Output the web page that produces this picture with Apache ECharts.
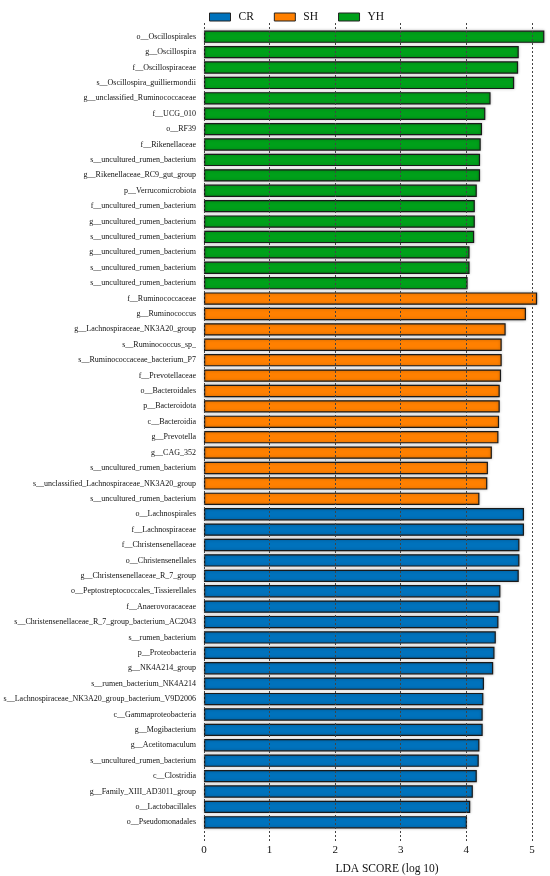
<!DOCTYPE html>
<html>
	<head>
		<meta charset="utf-8">
		<title>LDA score</title>
		<style>
			html, body { margin: 0; padding: 0; background: #fff; }
			#chart { width: 550px; height: 876px; }
		</style>
	</head>
	<body>
		<div id="chart"></div>
		<script src="https://cdn.jsdelivr.net/npm/echarts@6.0.0/dist/echarts.min.js"></script>
		<script>
			// 分组与LDA得分（从上到下的顺序）
			var groupNames = ['CR', 'SH', 'YH'];
			var groupColors = ['#0072bc', '#ff8000', '#00a01a'];

			var yhTaxa = [
				'o__Oscillospirales', 'g__Oscillospira', 'f__Oscillospiraceae', 's__Oscillospira_guilliermondii',
				'g__unclassified_Ruminococcaceae', 'f__UCG_010', 'o__RF39', 'f__Rikenellaceae',
				's__uncultured_rumen_bacterium', 'g__Rikenellaceae_RC9_gut_group', 'p__Verrucomicrobiota',
				'f__uncultured_rumen_bacterium', 'g__uncultured_rumen_bacterium', 's__uncultured_rumen_bacterium',
				'g__uncultured_rumen_bacterium', 's__uncultured_rumen_bacterium', 's__uncultured_rumen_bacterium'
			];
			var yhScores = [5.19, 4.80, 4.79, 4.73, 4.37, 4.29, 4.24, 4.22, 4.21, 4.21, 4.16, 4.13, 4.13, 4.12, 4.05, 4.05, 4.02];

			var shTaxa = [
				'f__Ruminococcaceae', 'g__Ruminococcus', 'g__Lachnospiraceae_NK3A20_group', 's__Ruminococcus_sp_',
				's__Ruminococcaceae_bacterium_P7', 'f__Prevotellaceae', 'o__Bacteroidales', 'p__Bacteroidota',
				'c__Bacteroidia', 'g__Prevotella', 'g__CAG_352', 's__uncultured_rumen_bacterium',
				's__unclassified_Lachnospiraceae_NK3A20_group', 's__uncultured_rumen_bacterium'
			];
			var shScores = [5.08, 4.91, 4.60, 4.54, 4.54, 4.53, 4.51, 4.51, 4.50, 4.49, 4.39, 4.33, 4.32, 4.20];

			var crTaxa = [
				'o__Lachnospirales', 'f__Lachnospiraceae', 'f__Christensenellaceae', 'o__Christensenellales',
				'g__Christensenellaceae_R_7_group', 'o__Peptostreptococcales_Tissierellales', 'f__Anaerovoracaceae',
				's__Christensenellaceae_R_7_group_bacterium_AC2043', 's__rumen_bacterium', 'p__Proteobacteria',
				'g__NK4A214_group', 's__rumen_bacterium_NK4A214', 's__Lachnospiraceae_NK3A20_group_bacterium_V9D2006',
				'c__Gammaproteobacteria', 'g__Mogibacterium', 'g__Acetitomaculum', 's__uncultured_rumen_bacterium',
				'c__Clostridia', 'g__Family_XIII_AD3011_group', 'o__Lactobacillales', 'o__Pseudomonadales'
			];
			var crScores = [4.88, 4.88, 4.81, 4.81, 4.80, 4.52, 4.51, 4.49, 4.45, 4.43, 4.41, 4.27, 4.26, 4.25, 4.25, 4.20, 4.19, 4.16, 4.10, 4.06, 4.01];

			var xTicks = [0, 1, 2, 3, 4, 5];
			var axisTitle = 'LDA SCORE (log 10)';

			// 纵轴顺序：YH -> SH -> CR
			var categories = yhTaxa.concat(shTaxa, crTaxa);
			function pad(before, vals, after) {
				var out = [];
				for (var i = 0; i < before; i++) out.push('-');
				out = out.concat(vals);
				for (var j = 0; j < after; j++) out.push('-');
				return out;
			}
			var seriesData = {
				YH: pad(0, yhScores, shScores.length + crScores.length),
				SH: pad(yhScores.length, shScores, crScores.length),
				CR: pad(yhScores.length + shScores.length, crScores, 0)
			};

			var font = '"Liberation Serif", "Times New Roman", serif';
			var chart = echarts.init(document.getElementById('chart'));

			var series = groupNames.map(function(name, i) {
				return {
					name: name,
					type: 'bar',
					stack: 'lda',
					xAxisIndex: 0,
					yAxisIndex: 0,
					barCategoryGap: '20%',
					data: seriesData[name],
					itemStyle: {
						color: groupColors[i],
						borderColor: '#1a1a1a',
						borderWidth: 1.2,
						shadowColor: 'rgba(0,0,0,0.3)',
						shadowBlur: 3
					},
					emphasis: { disabled: true },
					z: 2
				};
			});

			var option = {
				animation: false,
				backgroundColor: '#fff',
				title: {
					text: axisTitle,
					left: 382,
					top: 858,
					textAlign: 'center',
					textStyle: { fontFamily: font, fontSize: 11.5, fontWeight: 'normal', color: '#111' }
				},
				legend: {
					data: groupNames,
					left: 204,
					top: 6,
					icon: 'rect',
					itemWidth: 21,
					itemHeight: 8,
					itemGap: 20,
					itemStyle: { borderColor: '#222', borderWidth: 1 },
					textStyle: { fontFamily: font, fontSize: 11.5, color: '#111', padding: [0, 0, 0, 3] }
				},
				grid: [
					{ left: 204, right: 5, top: 29, bottom: 46 },
					{ left: 204, right: 5, top: 23, bottom: 34 }
				],
				xAxis: [{
					type: 'value',
					gridIndex: 0,
					min: 0,
					max: 5.2,
					show: false
				}, {
					type: 'value',
					gridIndex: 1,
					min: 0,
					max: 5.2,
					interval: 1,
					z: 10,
					axisLine: { show: false },
					axisTick: { show: false },
					axisLabel: {
						customValues: xTicks,
						margin: 3,
						fontFamily: font,
						fontSize: 11,
						color: '#111'
					},
					splitLine: {
						show: true,
						showMaxLine: false,
						lineStyle: { color: '#444', width: 1, type: [2, 2] }
					}
				}],
				yAxis: [{
					type: 'category',
					gridIndex: 0,
					inverse: true,
					data: categories,
					axisLine: { show: false },
					axisTick: { show: false },
					axisLabel: {
						interval: 0,
						margin: 8,
						fontFamily: font,
						fontSize: 8,
						color: '#111'
					}
				}, {
					type: 'value',
					gridIndex: 1,
					show: false
				}],
				series: series
			};
			chart.setOption(option);
		</script>
	</body>
</html>
